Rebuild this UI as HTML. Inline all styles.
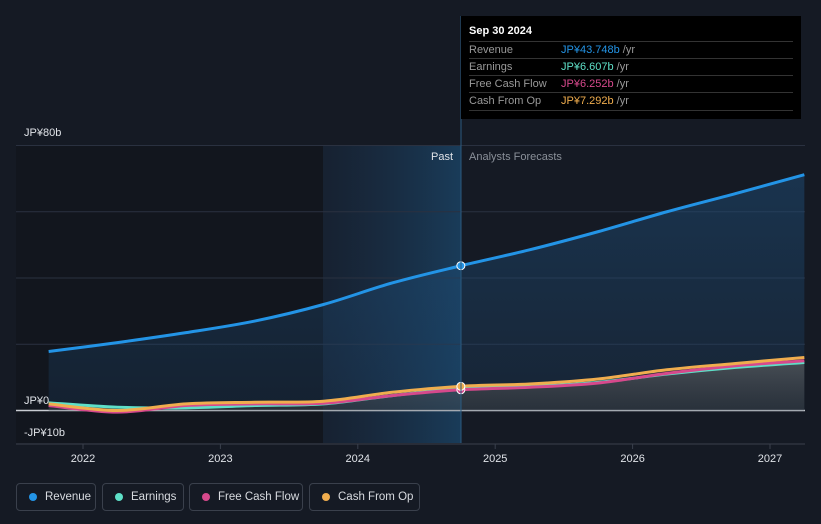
<!DOCTYPE html>
<html><head><meta charset="utf-8"><style>
body{margin:0;background:#151a24;width:821px;height:524px;overflow:hidden;font-family:"Liberation Sans",sans-serif}
svg{position:absolute;left:0;top:0}
.leg{position:absolute;top:483px;height:28px;border:1px solid #3a404c;border-radius:4px;color:#d8dbe0;font-size:11.5px;line-height:26px;padding:0 0 0 28px;box-sizing:border-box;white-space:nowrap;overflow:hidden}
.leg i{position:absolute;left:12px;top:9px;width:8px;height:8px;border-radius:50%}
#tip{position:absolute;left:461px;top:16px;width:340px;height:103px;background:#000;color:#fff;font-size:11px}
#tip .h{position:absolute;left:8px;top:9px;font-weight:bold}
#tip .r{position:absolute;left:8px;width:324px;height:17px;border-top:1px solid #333;color:#999;line-height:17px}
#tip .r span{position:absolute;left:92px}
#tip .r em{font-style:normal;color:#999}
</style></head><body>
<svg id="c" width="821" height="524"></svg>
<div id="tip">
<div class="h">Sep 30 2024</div>
<div class="r" style="top:25px">Revenue<span><b style="font-weight:normal;color:#2394e6">JP¥43.748b</b> <em>/yr</em></span></div>
<div class="r" style="top:42px">Earnings<span><b style="font-weight:normal;color:#5ee0c8">JP¥6.607b</b> <em>/yr</em></span></div>
<div class="r" style="top:59px">Free Cash Flow<span><b style="font-weight:normal;color:#d6498c">JP¥6.252b</b> <em>/yr</em></span></div>
<div class="r" style="top:76px;border-bottom:1px solid #333">Cash From Op<span><b style="font-weight:normal;color:#f0ad4e">JP¥7.292b</b> <em>/yr</em></span></div>
</div>
<div class="leg" style="left:16px;width:80px"><i style="background:#2394e6"></i>Revenue</div>
<div class="leg" style="left:102px;width:82px"><i style="background:#5ee0c8"></i>Earnings</div>
<div class="leg" style="left:189px;width:114px"><i style="background:#d6498c"></i>Free Cash Flow</div>
<div class="leg" style="left:309px;width:111px"><i style="background:#f0ad4e"></i>Cash From Op</div>
<script>
const years=[2021.75,2022.25,2022.75,2023.25,2023.75,2024.25,2024.75,2025.25,2025.75,2026.25,2026.75,2027.25];
const revenue=[17.8,20.5,23.5,27,32,38.5,43.7,48.5,54,60,65.5,71.2];
const earnings=[2.3,1.0,0.8,1.5,2,4.5,6.6,7.2,8.5,11,13,14.5];
const fcf=[1.5,-0.5,1.5,2.0,2.2,4.5,6.25,7,8.3,11.2,13.5,15];
const cfo=[2,0,2,2.5,2.8,5.5,7.3,8,9.5,12.3,14.2,16];
const yTicks=[80,60,40,20,0];
const xTicks=[2022,2023,2024,2025,2026,2027];
const X=v=>83+(v-2022)*137.4, Y=v=>410.5-v*3.3125;
const NS="http://www.w3.org/2000/svg",svg=document.getElementById('c');
function el(t,a,p){const e=document.createElementNS(NS,t);for(const k in a)e.setAttribute(k,a[k]);(p||svg).appendChild(e);return e;}
const defs=el('defs',{});
defs.innerHTML='<linearGradient id="pg" x1="0" x2="1"><stop offset="0" stop-color="#1b3350" stop-opacity="0.3"/><stop offset="1" stop-color="#1b4a70" stop-opacity="0.7"/></linearGradient><linearGradient id="rg" x1="0" y1="0" x2="0" y2="1"><stop offset="0" stop-color="#1e4d78" stop-opacity="0.5"/><stop offset="1" stop-color="#1e4d78" stop-opacity="0.2"/></linearGradient><linearGradient id="eg" x1="0" y1="0" x2="0" y2="1"><stop offset="0" stop-color="#666" stop-opacity="0.6"/><stop offset="1" stop-color="#444" stop-opacity="0.4"/></linearGradient>';
let r=el('rect',{x:16,y:145,width:307,height:298,fill:'#12161e'});
r=el('rect',{x:323,y:145,width:138,height:298,fill:'url(#pg)'});
yTicks.forEach(t=>{const l=el('line',{x1:16,x2:805,y1:Y(t),y2:Y(t),stroke:t===0?'#c8ccd2':'#2a3140','stroke-width':t===0?1.5:1});});
function path(arr){const p=years.map((y,i)=>[X(y),Y(arr[i])]);let d='M'+p[0][0]+','+p[0][1];
for(let i=0;i<p.length-1;i++){const a=p[Math.max(0,i-1)],b=p[i],c=p[i+1],e=p[Math.min(p.length-1,i+2)];
d+=' C'+(b[0]+(c[0]-a[0])/6)+','+(b[1]+(c[1]-a[1])/6)+' '+(c[0]-(e[0]-b[0])/6)+','+(c[1]-(e[1]-b[1])/6)+' '+c[0]+','+c[1];}return d;}
const x0=X(years[0]),x1=X(years[years.length-1]);
let a=el('path',{d:path(revenue)+' L'+x1+','+Y(0)+' L'+x0+','+Y(0)+'Z',fill:'url(#rg)'});
a=el('path',{d:path(earnings)+' L'+x1+','+Y(0)+' L'+x0+','+Y(0)+'Z',fill:'url(#eg)'});
[[earnings,'#5ee0c8','earnings-line'],[fcf,'#d6498c','free-cash-flow-line'],[cfo,'#f0ad4e','cash-from-op-line'],[revenue,'#2394e6','revenue-line']].forEach(([arr,c,n])=>{
const p=el('path',{d:path(arr),fill:'none',stroke:c,'stroke-width':3});
const d=el('circle',{cx:X(2024.75),cy:Y(arr[6]),r:4,fill:c,stroke:'#fff','stroke-width':1});});
let l=el('line',{x1:461,x2:461,y1:16,y2:443,stroke:'#2a5a80','stroke-width':1});
l=el('line',{x1:16,x2:805,y1:444,y2:444,stroke:'#3a404c'});
function txt(x,y,s,a,c,n){const t=el('text',{x:x,y:y,'font-size':11,fill:c||'#e0e3e8','text-anchor':a||'start','font-family':'Liberation Sans'});t.textContent=s;}
xTicks.forEach(t=>{const k=el('line',{x1:X(t),x2:X(t),y1:444,y2:449,stroke:'#3a404c'});txt(X(t),462,String(t),'middle','#e0e3e8','x-tick-label');});
txt(24,136,'JP¥80b','start','#e0e3e8','y-label-max');
txt(24,404,'JP¥0','start','#e0e3e8','y-label-zero');
txt(24,436,'-JP¥10b','start','#e0e3e8','y-label-min');
txt(453,160,'Past','end','#e0e3e8','past-label');
txt(469,160,'Analysts Forecasts','start','#8a9099','forecast-label');
</script>
</body></html>
